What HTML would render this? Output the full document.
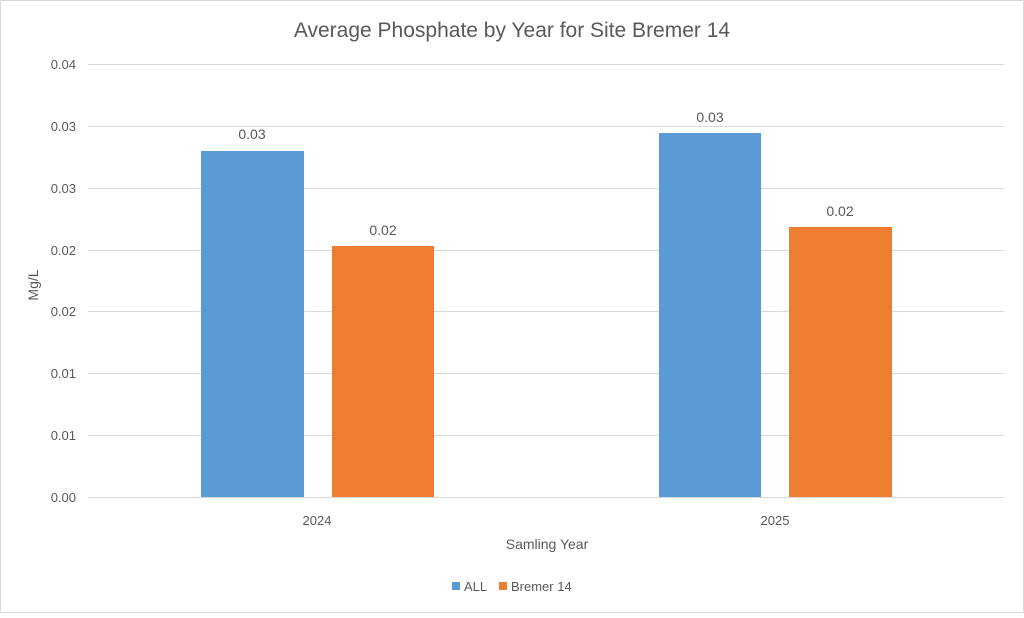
<!DOCTYPE html>
<html><head><style>
body{margin:0;background:#fff;}
svg text{font-family:"Liberation Sans",Arial,sans-serif;fill:#595959;}
</style></head><body>
<svg width="1024" height="613" xmlns="http://www.w3.org/2000/svg">
<rect x="0.5" y="0.5" width="1023" height="612" fill="#fff" stroke="#d9d9d9"/>
<text x="512" y="37" font-size="21" text-anchor="middle">Average Phosphate by Year for Site Bremer 14</text>
<g stroke="#d9d9d9" stroke-width="1">
<line x1="88" x2="1004" y1="64.5" y2="64.5"/>
<line x1="88" x2="1004" y1="126.5" y2="126.5"/>
<line x1="88" x2="1004" y1="188.5" y2="188.5"/>
<line x1="88" x2="1004" y1="250.5" y2="250.5"/>
<line x1="88" x2="1004" y1="311.5" y2="311.5"/>
<line x1="88" x2="1004" y1="373.5" y2="373.5"/>
<line x1="88" x2="1004" y1="435.5" y2="435.5"/>
<line x1="88" x2="1004" y1="497.5" y2="497.5"/>
</g>
<g font-size="13" text-anchor="end">
<text x="76" y="69">0.04</text>
<text x="76" y="131">0.03</text>
<text x="76" y="193">0.03</text>
<text x="76" y="255">0.02</text>
<text x="76" y="316">0.02</text>
<text x="76" y="378">0.01</text>
<text x="76" y="440">0.01</text>
<text x="76" y="502">0.00</text>
</g>
<rect x="201" y="151" width="103" height="346" fill="#5b9bd5"/>
<rect x="332" y="246" width="102" height="251" fill="#ed7d31"/>
<rect x="659" y="133" width="102" height="364" fill="#5b9bd5"/>
<rect x="789" y="227" width="103" height="270" fill="#ed7d31"/>
<g font-size="14" text-anchor="middle">
<text x="252" y="139">0.03</text>
<text x="383" y="235">0.02</text>
<text x="710" y="122">0.03</text>
<text x="840" y="216">0.02</text>
</g>
<g font-size="13" text-anchor="middle">
<text x="317" y="525">2024</text>
<text x="775" y="525">2025</text>
</g>
<text x="547" y="549" font-size="14" text-anchor="middle">Samling Year</text>
<text x="0" y="0" font-size="14" text-anchor="middle" transform="translate(38,285) rotate(-90)">Mg/L</text>
<rect x="452" y="582" width="8" height="8" fill="#5b9bd5"/>
<text x="464" y="591" font-size="13">ALL</text>
<rect x="499" y="582" width="8" height="8" fill="#ed7d31"/>
<text x="511" y="591" font-size="13">Bremer 14</text>
</svg>
</body></html>
